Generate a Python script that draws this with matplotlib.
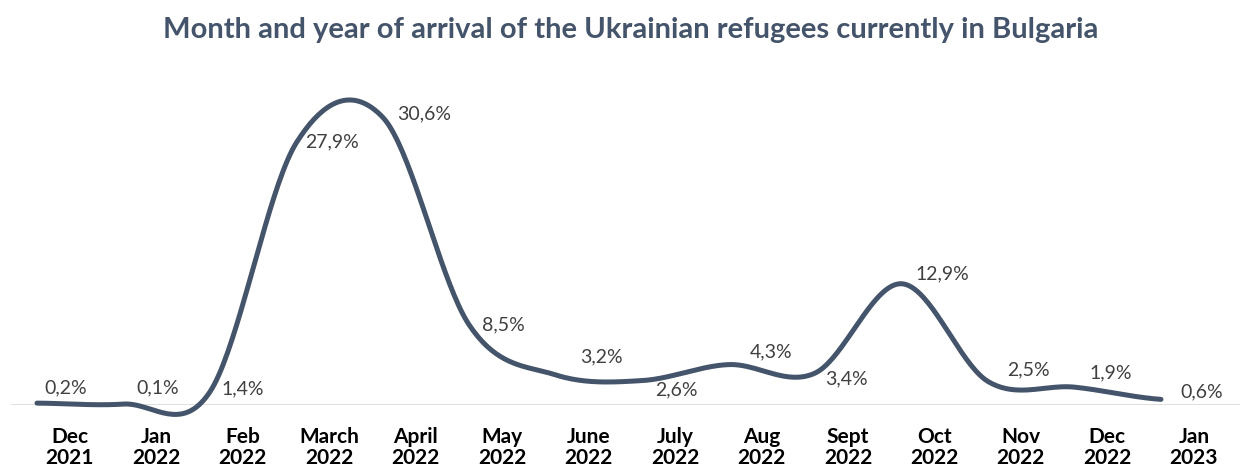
import matplotlib
matplotlib.use("Agg")
import matplotlib.pyplot as plt
import numpy as np

plt.rcParams['font.family'] = ['Lato', 'DejaVu Sans']

months = ["Dec\n2021", "Jan\n2022", "Feb\n2022", "March\n2022", "April\n2022",
          "May\n2022", "June\n2022", "July\n2022", "Aug\n2022", "Sept\n2022",
          "Oct\n2022", "Nov\n2022", "Dec\n2022", "Jan\n2023"]
share = [0.2, 0.1, 1.4, 27.9, 30.6, 8.5, 3.2, 2.6, 4.3, 3.4, 12.9, 2.5, 1.9, 0.6]

# where each value label sits relative to its point (pixels, right / up)
label_off = [(7, 15), (13, 16), (12, 3), (9, 1), (14, 3), (13, 0), (24, 18),
             (13, -9), (21, 13), (10, -6), (14, 10), (19, 12), (15, 14), (19, 7)]

LINE = "#44546a"


def smooth(x, y, steps=40):
    # Catmull-Rom spline through the points, like a spreadsheet "smoothed line"
    x = np.asarray(x, float)
    y = np.asarray(y, float)
    px = np.concatenate([[2 * x[0] - x[1]], x, [2 * x[-1] - x[-2]]])
    py = np.concatenate([[y[0]], y, [y[-1]]])
    xs, ys = [], []
    t = np.linspace(0, 1, steps)
    h00 = 2 * t**3 - 3 * t**2 + 1
    h10 = t**3 - 2 * t**2 + t
    h01 = -2 * t**3 + 3 * t**2
    h11 = t**3 - t**2
    for i in range(1, len(px) - 2):
        mx = (px[i + 1] - px[i - 1]) / 2
        mx2 = (px[i + 2] - px[i]) / 2
        my = (py[i + 1] - py[i - 1]) / 2
        my2 = (py[i + 2] - py[i]) / 2
        xs.append(h00 * px[i] + h10 * mx + h01 * px[i + 1] + h11 * mx2)
        ys.append(h00 * py[i] + h10 * my + h01 * py[i + 1] + h11 * my2)
    return np.concatenate(xs), np.concatenate(ys)


fig = plt.figure(figsize=(12.4, 4.68), dpi=100)
ax = fig.add_axes([0, 0.1346, 1, 0.703])

x = np.arange(len(share))
sx, sy = smooth(x, share)
ax.plot(sx, sy, color=LINE, lw=3.6, solid_capstyle='round', clip_on=False, zorder=3)

for xi, v, (dx, dy) in zip(x, share, label_off):
    ax.annotate(f"{v:.1f}%".replace(".", ","), (xi, v), xytext=(dx, dy),
                textcoords='offset pixels', ha='left', va='center',
                fontsize=14, color="#404040")

ax.set_xlim(-0.428, 13.914)
ax.set_ylim(0, 35)
ax.axhline(0, xmin=12 / 1240, xmax=1, color="#d9d9d9", lw=1.2, zorder=1)

ax.set_xticks(x + 0.38)
ax.set_xticklabels(months, fontsize=15, fontweight='bold', color='black',
                   linespacing=1.05)
ax.tick_params(axis='x', length=0, pad=16)
ax.set_yticks([])
for s in ax.spines.values():
    s.set_visible(False)

fig.text(0.509, 0.9188, "Month and year of arrival of the Ukrainian refugees currently in Bulgaria",
         ha='center', va='baseline', fontsize=21, fontweight='bold', color=LINE)

fig.savefig("out.png", dpi=100)
